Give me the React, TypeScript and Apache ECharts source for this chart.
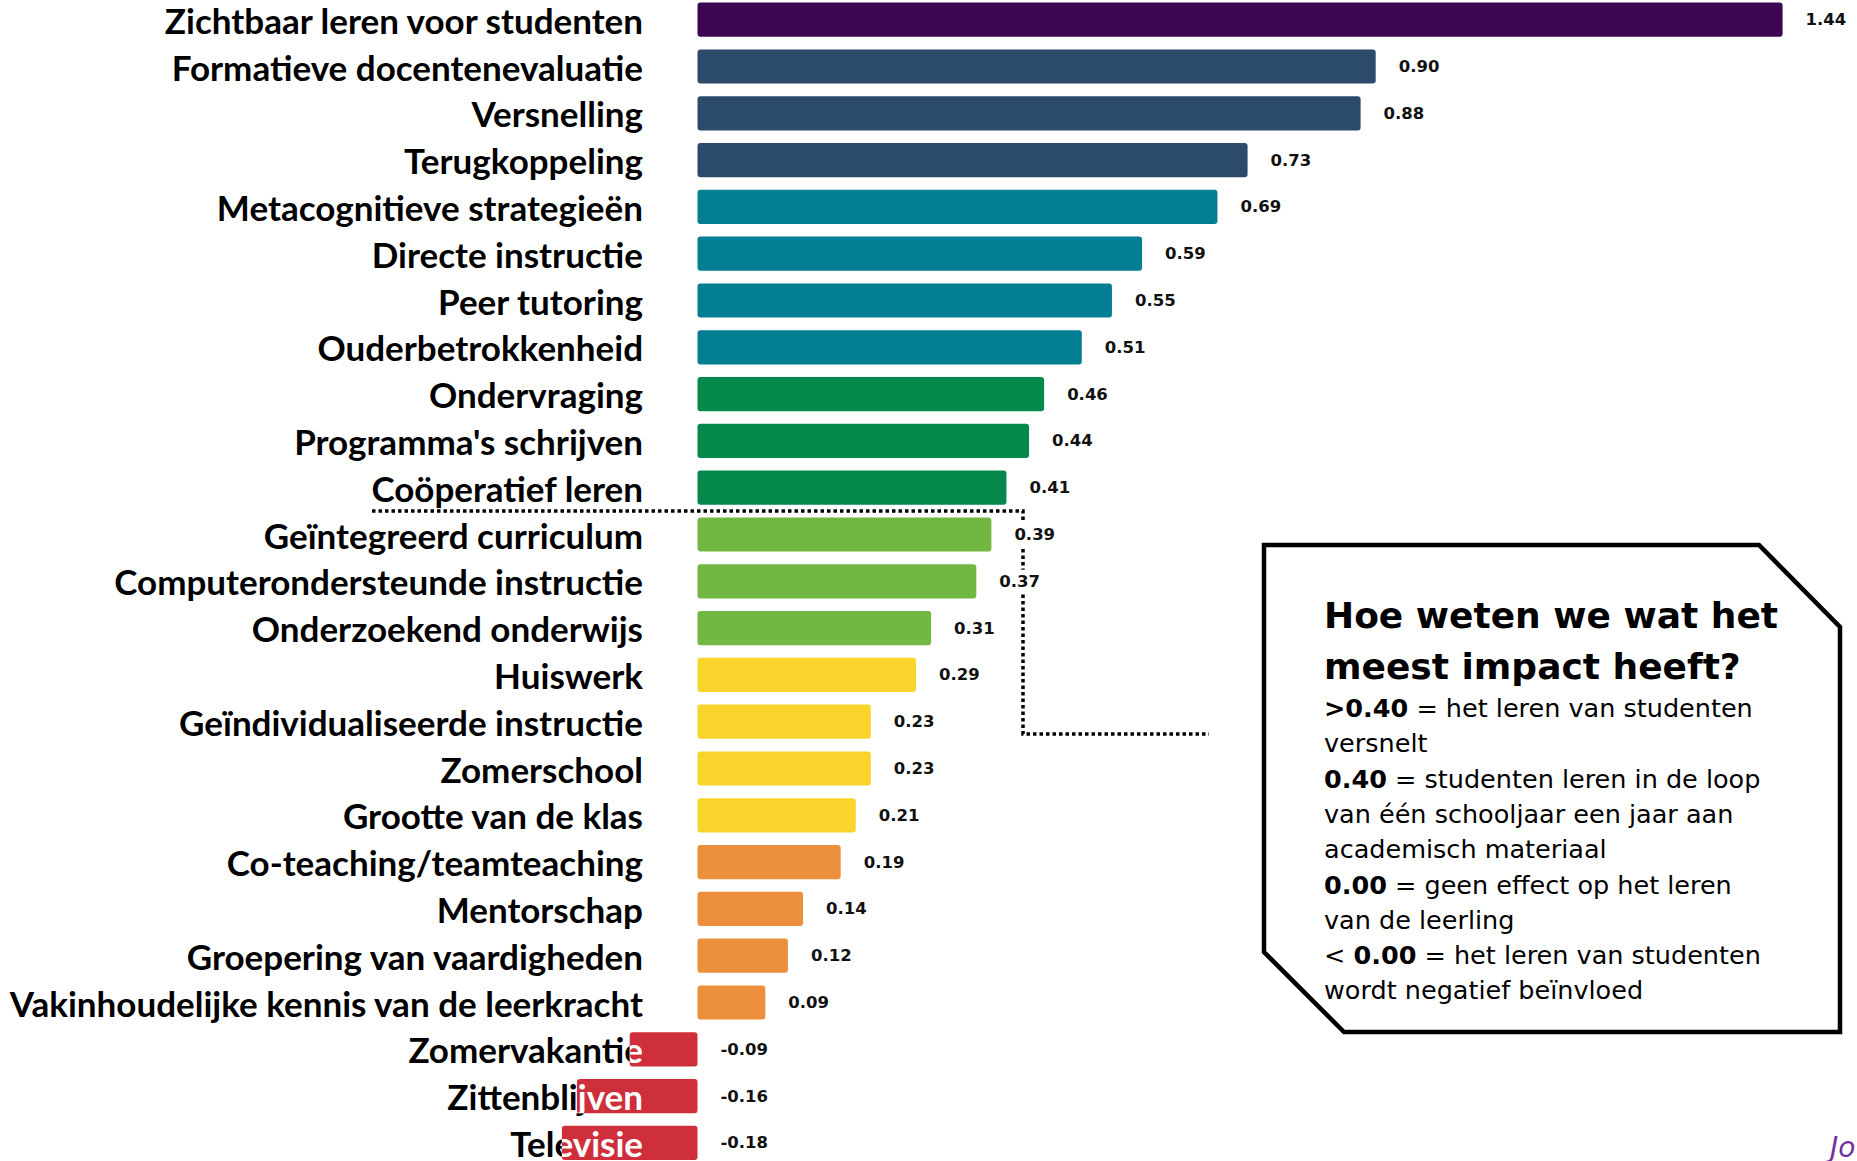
import React, { useEffect, useRef } from 'react';
import * as echarts from 'echarts';

const categories = [
  'Zichtbaar leren voor studenten',
  'Formatieve docentenevaluatie',
  'Versnelling',
  'Terugkoppeling',
  'Metacognitieve strategieën',
  'Directe instructie',
  'Peer tutoring',
  'Ouderbetrokkenheid',
  'Ondervraging',
  "Programma's schrijven",
  'Coöperatief leren',
  'Geïntegreerd curriculum',
  'Computerondersteunde instructie',
  'Onderzoekend onderwijs',
  'Huiswerk',
  'Geïndividualiseerde instructie',
  'Zomerschool',
  'Grootte van de klas',
  'Co-teaching/teamteaching',
  'Mentorschap',
  'Groepering van vaardigheden',
  'Vakinhoudelijke kennis van de leerkracht',
  'Zomervakantie',
  'Zittenblijven',
  'Televisie',
];

const values = [
  1.44, 0.9, 0.88, 0.73, 0.69, 0.59, 0.55, 0.51, 0.46, 0.44, 0.41, 0.39, 0.37,
  0.31, 0.29, 0.23, 0.23, 0.21, 0.19, 0.14, 0.12, 0.09, -0.09, -0.16, -0.18,
];

const tiers = [
  'top', 'high', 'high', 'high', 'teal', 'teal', 'teal', 'teal', 'green', 'green',
  'green', 'lime', 'lime', 'lime', 'yellow', 'yellow', 'yellow', 'yellow',
  'orange', 'orange', 'orange', 'orange', 'red', 'red', 'red',
];

const titleLines = ['Hoe weten we wat het', 'meest impact heeft?'];
const bodyLines = [
  '{b|>0.40} = het leren van studenten',
  'versnelt',
  '{b|0.40} = studenten leren in de loop',
  'van één schooljaar een jaar aan',
  'academisch materiaal',
  '{b|0.00} = geen effect op het leren',
  'van de leerling',
  '< {b|0.00} = het leren van studenten',
  'wordt negatief beïnvloed',
];
const credit = 'Jo';

const palette: Record<string, string> = {
  top: '#3d0552',
  high: '#2c4b6b',
  teal: '#037e93',
  green: '#04894a',
  lime: '#72b742',
  yellow: '#f9d42b',
  orange: '#ec8f3c',
  red: '#cf2f3a',
};

const X_MIN = -0.2;
const X_MAX = 1.5;
const GRID_LEFT = 546.8;
const GRID_RIGHT = 29.2;
const CHART_W = 1857;
const LABEL_FONT = 'Lato';
const LABEL_SIZE = 35;
const LABEL_MARGIN = 54.5;
const BOX_FONT = "'DejaVu Sans'";

export default function App() {
  const ref = useRef<HTMLDivElement>(null);
  useEffect(() => {
    const chart = echarts.init(ref.current!, null, { renderer: 'svg' });
    const gridW = CHART_W - GRID_LEFT - GRID_RIGHT;
    const zeroOffset = ((0 - X_MIN) / (X_MAX - X_MIN)) * gridW;
    const negData = values
      .map((v, i) => [v, i])
      .filter((d) => d[0] < 0);
    const option: any = {
      animation: false,
      backgroundColor: '#fff',
      grid: {
        left: GRID_LEFT,
        right: GRID_RIGHT,
        top: -3.7,
        bottom: -5.3,
        containLabel: false,
        outerBoundsMode: 'none',
      },
      xAxis: {
        type: 'value',
        min: X_MIN,
        max: X_MAX,
        show: false,
      },
      yAxis: {
        type: 'category',
        inverse: true,
        data: categories,
        axisLine: { show: false, onZero: false },
        axisTick: { show: false },
        splitLine: { show: false },
        axisLabel: {
          interval: 0,
          margin: LABEL_MARGIN - zeroOffset,
          color: '#000',
          fontFamily: LABEL_FONT,
          fontWeight: 'bold',
          fontSize: LABEL_SIZE,
        },
      },
      series: [
        {
          type: 'bar',
          z: 2,
          barCategoryGap: '27%',
          data: values.map((v, i) => ({
            value: v,
            itemStyle: { color: palette[tiers[i]], borderRadius: 3 },
          })),
          label: {
            show: true,
            position: 'right',
            distance: 20,
            padding: [3, 3],
            backgroundColor: '#fff',
            color: '#111',
            fontFamily: BOX_FONT,
            fontWeight: 'bold',
            fontSize: 16.5,
            formatter: (p: any) => Number(p.value).toFixed(2),
          },
        },
        {
          type: 'custom',
          coordinateSystem: 'cartesian2d',
          z: 5,
          encode: { x: 0, y: 1 },
          data: negData,
          silent: true,
          renderItem: (params: any, api: any) => {
            const v = api.value(0);
            const i = api.value(1);
            const zero = api.coord([0, i]);
            const end = api.coord([v, i]);
            const band = api.size([0, 1])[1];
            const h = band * 0.73;
            return {
              type: 'group',
              clipPath: {
                type: 'rect',
                shape: { x: end[0], y: zero[1] - h / 2, width: zero[0] - end[0], height: h },
              },
              children: [
                {
                  type: 'text',
                  x: zero[0] - LABEL_MARGIN,
                  y: zero[1],
                  style: {
                    text: categories[i],
                    fill: '#fff',
                    align: 'right',
                    verticalAlign: 'middle',
                    fontFamily: LABEL_FONT,
                    fontWeight: 'bold',
                    fontSize: LABEL_SIZE,
                  },
                },
              ],
            };
          },
        },
      ],
      graphic: {
        elements: [
          {
            type: 'polyline',
            z: 0,
            silent: true,
            shape: { points: [[372, 511], [1023, 511], [1023, 734], [1209, 734]] },
            style: { stroke: '#000', lineWidth: 3.5, lineDash: [3.5, 3], fill: null },
          },
          {
            type: 'polygon',
            z: 10,
            silent: true,
            shape: {
              points: [[1264, 545], [1759, 545], [1840, 627], [1840, 1032], [1344, 1032], [1264, 952]],
            },
            style: { stroke: '#000', lineWidth: 4.5, fill: '#fff' },
          },
          {
            type: 'text',
            z: 11,
            x: 1324,
            y: 589.5,
            style: {
              text: titleLines.join('\n'),
              fill: '#000',
              fontFamily: BOX_FONT,
              fontWeight: 'bold',
              fontSize: 36,
              lineHeight: 51,
              verticalAlign: 'top',
              align: 'left',
            },
          },
          {
            type: 'text',
            z: 11,
            x: 1324,
            y: 690.4,
            style: {
              text: bodyLines.join('\n'),
              fill: '#000',
              fontFamily: BOX_FONT,
              fontSize: 25.5,
              lineHeight: 35.3,
              verticalAlign: 'top',
              align: 'left',
              rich: {
                b: {
                  fontFamily: BOX_FONT,
                  fontWeight: 'bold',
                  fontSize: 25.5,
                  lineHeight: 35.3,
                  fill: '#000',
                },
              },
            },
          },
          {
            type: 'text',
            z: 11,
            x: 1830,
            y: 1133,
            style: {
              text: credit,
              fill: '#7030a0',
              fontFamily: BOX_FONT,
              fontStyle: 'italic',
              fontSize: 28,
              verticalAlign: 'top',
            },
          },
        ],
      },
    };
    chart.setOption(option);
    return () => chart.dispose();
  }, []);
  return (
    <div
      ref={ref}
      style={{ position: 'fixed', left: 0, top: 0, width: CHART_W, height: 1161, background: '#fff' }}
    />
  );
}
